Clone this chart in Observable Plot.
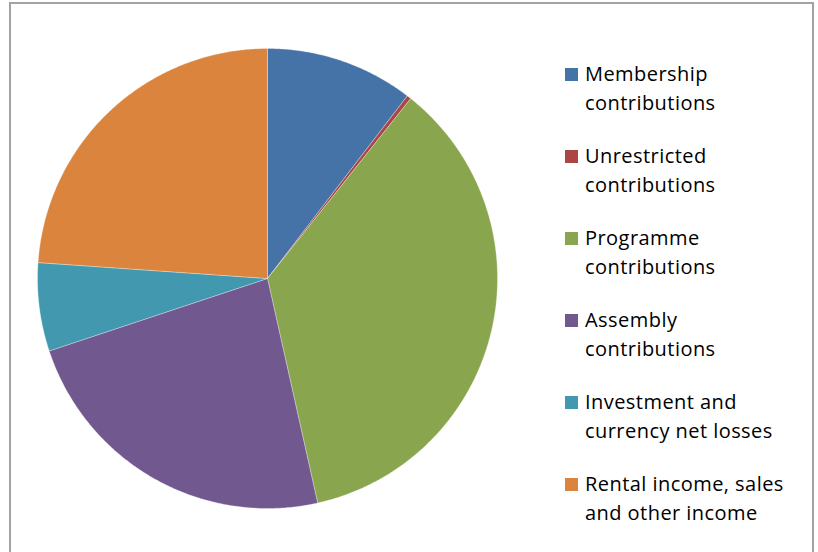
<!DOCTYPE html>
<html>
<head>
<meta charset="utf-8">
<script src="https://cdn.jsdelivr.net/npm/d3@7"></script>
<script src="https://cdn.jsdelivr.net/npm/@observablehq/plot@0.6"></script>
<style>
  html, body { margin: 0; padding: 0; background: #fff; overflow: hidden; }
  #wrap { position: relative; width: 818px; height: 552px; overflow: hidden; }
  #frame { position: absolute; left: 9px; top: 2px; width: 805px; height: 620px;
           border: 2px solid #a3a3a3; box-sizing: border-box; pointer-events: none; }
  #chart { position: absolute; left: 0; top: 0; }
  .item { position: absolute; left: 585px; font-family: "Open Sans", sans-serif;
          font-size: 20px; letter-spacing: 0.45px; line-height: 29.5px; color: #000; white-space: nowrap; }
  .sw { position: absolute; left: -20px; width: 13px; height: 13px; }
</style>
</head>
<body>
<div id="wrap"><div id="chart"></div><div id="frame"></div></div>
<script>
const categories = [
  "Membership contributions",
  "Unrestricted contributions",
  "Programme contributions",
  "Assembly contributions",
  "Investment and currency net losses",
  "Rental income, sales and other income"
];
const legendLines = [
  ["Membership", "contributions"],
  ["Unrestricted", "contributions"],
  ["Programme", "contributions"],
  ["Assembly", "contributions"],
  ["Investment and", "currency net losses"],
  ["Rental income, sales", "and other income"]
];
const values = [10.4, 0.3, 35.8, 23.4, 6.2, 23.9];
const colors = ["#4572A7", "#AA4643", "#89A54E", "#71588F", "#4198AF", "#DB843D"];

// Build slice polygons (unit circle, clockwise from 12 o'clock) from the values
const total = d3.sum(values);
const pts = [];
let acc = 0;
categories.forEach((k, i) => {
  const a0 = acc / total * 2 * Math.PI;
  acc += values[i];
  const a1 = acc / total * 2 * Math.PI;
  const n = Math.max(2, Math.ceil((a1 - a0) / (Math.PI / 360)));
  pts.push({k, x: 0, y: 0});
  for (let j = 0; j <= n; j++) {
    const a = a0 + (a1 - a0) * j / n;
    pts.push({k, x: Math.sin(a), y: Math.cos(a)});
  }
  pts.push({k, x: 0, y: 0});
});

const plot = Plot.plot({
  width: 818,
  height: 552,
  margin: 0,
  style: {background: "transparent"},
  x: {domain: [-1, 1], range: [37, 497], axis: null},
  y: {domain: [-1, 1], range: [508, 48], axis: null},
  color: {domain: categories, range: colors},
  marks: [
    Plot.line(pts, {x: "x", y: "y", z: "k", fill: "k", stroke: "#ffffff", strokeWidth: 0.6, strokeOpacity: 0.5})
  ]
});
document.getElementById("chart").appendChild(plot);

// Legend
const wrap = document.getElementById("wrap");
legendLines.forEach((lines, i) => {
  const d = document.createElement("div");
  d.className = "item";
  d.style.top = (58.5 + 82 * i) + "px";
  d.innerHTML = lines.join("<br>");
  const s = document.createElement("div");
  s.className = "sw";
  s.style.top = "9.5px";
  s.style.background = plot.scale("color").apply(categories[i]);
  d.appendChild(s);
  wrap.appendChild(d);
});
</script>
</body>
</html>
